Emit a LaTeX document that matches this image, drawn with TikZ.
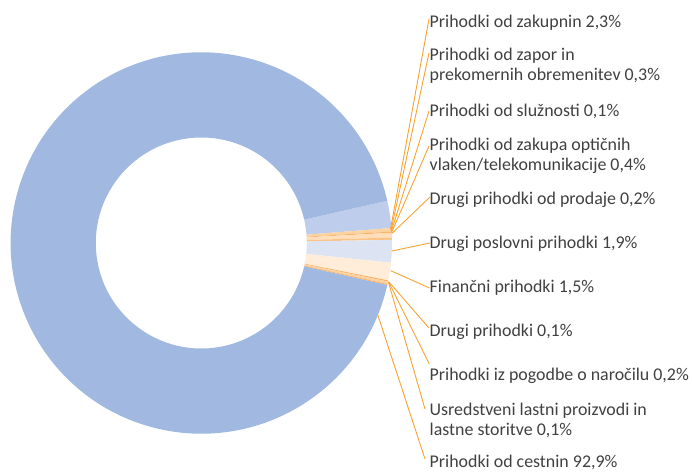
\documentclass[tikz,border=0pt]{standalone}
\usepackage{fontspec}
\setmainfont{Carlito}
\definecolor{cest}{RGB}{161,184,224}
\definecolor{zak}{RGB}{190,205,235}
\definecolor{posl}{RGB}{220,227,243}
\definecolor{fin}{RGB}{255,236,217}
\definecolor{orA}{RGB}{252,210,160}
\definecolor{orB}{RGB}{247,180,105}
\definecolor{orC}{RGB}{255,222,185}
\definecolor{orD}{RGB}{250,196,135}
\definecolor{leadc}{RGB}{247,163,50}
\definecolor{txt}{RGB}{64,64,64}
\begin{document}
\begin{tikzpicture}[x=1pt,y=1pt,
  lbl/.style={anchor=base west, inner sep=0pt, text=txt, font=\fontsize{17.9}{20}\selectfont},
  lead/.style={draw=leadc, line width=0.9pt}]
\useasboundingbox (0,0) rectangle (692,-471);
\newcommand\slice[3]{\fill[#3] (#1:190.7) arc[start angle=#1,end angle=#2,radius=190.7] -- (#2:105.5) arc[start angle=#2,end angle=#1,radius=105.5] -- cycle;}
\begin{scope}[shift={(201.3,-243)}]
\slice{12.8}{4.52}{zak}
\slice{4.52}{3.44}{orA}
\slice{3.44}{3.08}{orB}
\slice{3.08}{1.64}{orC}
\slice{1.64}{0.92}{orD}
\slice{0.92}{-5.92}{posl}
\slice{-5.92}{-11.32}{fin}
\slice{-11.32}{-11.68}{orB}
\slice{-11.68}{-12.40}{orA}
\slice{-12.40}{-12.76}{orB}
\slice{-12.76}{-347.2}{cest}
\end{scope}
% labels
\node[lbl] (L1) at (429.5,-27) {Prihodki od zakupnin 2,3\%};
\node[lbl] (L2a) at (429.5,-60) {Prihodki od zapor in};
\node[lbl] (L2b) at (429.5,-80) {prekomernih obremenitev 0,3\%};
\node[lbl] (L3) at (429.5,-116) {Prihodki od služnosti 0,1\%};
\node[lbl] (L4a) at (429.5,-150) {Prihodki od zakupa optičnih};
\node[lbl] (L4b) at (429.5,-170) {vlaken/telekomunikacije 0,4\%};
\node[lbl] (L5) at (429.5,-204.5) {Drugi prihodki od prodaje 0,2\%};
\node[lbl] (L6) at (429.5,-248.5) {Drugi poslovni prihodki 1,9\%};
\node[lbl] (L7) at (429.5,-292.5) {Finančni prihodki 1,5\%};
\node[lbl] (L8) at (429.5,-336) {Drugi prihodki 0,1\%};
\node[lbl] (L9) at (429.5,-380.5) {Prihodki iz pogodbe o naročilu 0,2\%};
\node[lbl] (L10a) at (429.5,-415) {Usredstveni lastni proizvodi in};
\node[lbl] (L10b) at (429.5,-435) {lastne storitve 0,1\%};
\node[lbl] (L11) at (429.5,-467) {Prihodki od cestnin 92,9\%};
% leader ends on the chart
\coordinate (P1) at (390.5,-229);
\coordinate (P2) at (391,-230.5);
\coordinate (P3) at (391.3,-231.5);
\coordinate (P4) at (391.6,-232.5);
\coordinate (P5) at (391.8,-233.5);
\coordinate (P6) at (391.8,-251);
\coordinate (P7) at (390.7,-270.7);
\coordinate (P8) at (388.7,-281.7);
\coordinate (P9) at (388.7,-282);
\coordinate (P10) at (388.5,-282.5);
\coordinate (P11) at (377.8,-315);
% leader ends at the labels
\coordinate (Q1) at (429,-19);
\coordinate (Q2) at (429,-53);
\coordinate (Q3) at (429,-111);
\coordinate (Q4) at (429,-146);
\coordinate (Q5) at (430,-197);
\coordinate (Q6) at (430,-243);
\coordinate (Q7) at (429.5,-288);
\coordinate (Q8) at (429,-328);
\coordinate (Q9) at (429.3,-364);
\coordinate (Q10) at (425,-409);
\coordinate (Q11) at (425,-459);
\foreach \i in {1,...,11} {\draw[lead] (P\i) -- (Q\i);}
\end{tikzpicture}
\end{document}
